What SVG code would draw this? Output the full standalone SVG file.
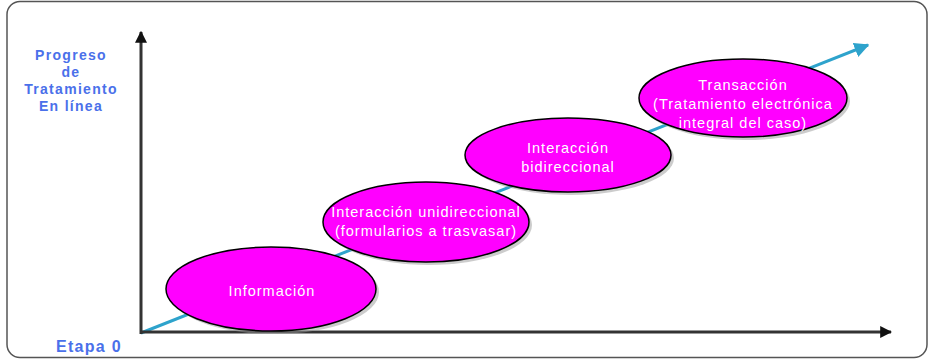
<svg xmlns="http://www.w3.org/2000/svg" width="931" height="360" viewBox="0 0 931 360">
<style>
.axis{stroke:#333;stroke-width:3;fill:none}
.trend{stroke:#2ea3cc;stroke-width:3;fill:none}
.node ellipse.sh{fill:#999;opacity:0.5}
.node ellipse.e{fill:#ff00ff;stroke:#000;stroke-width:1.5}
.node text{font-family:"Liberation Sans",Arial,sans-serif;font-size:14.5px;fill:#fff;text-anchor:middle;letter-spacing:1px}
.lbl{font-family:"Liberation Sans",Arial,sans-serif;font-weight:bold;fill:#4a70ea;text-anchor:middle;letter-spacing:1.3px}
</style>
<defs>
<marker id="ah" viewBox="0 0 10 10" refX="9" refY="5" markerWidth="4" markerHeight="4" orient="auto" markerUnits="strokeWidth"><path d="M0,0 L10,5 L0,10 Z" fill="#111"/></marker>
<marker id="bh" viewBox="0 0 10 10" refX="9" refY="5" markerWidth="5" markerHeight="5" orient="auto" markerUnits="strokeWidth"><path d="M0,0 L10,5 L0,10 Z" fill="#2ea3cc"/></marker>
</defs>
<rect x="7" y="1.5" width="920" height="356" rx="13" fill="#fff" stroke="#555" stroke-width="1.5"/>
<g id="connectors">
<line class="trend" x1="141" y1="333" x2="868" y2="45" marker-end="url(#bh)"/>
<line class="axis" x1="141" y1="334" x2="141" y2="32" marker-end="url(#ah)"/>
<line class="axis" x1="140" y1="332" x2="891" y2="332" marker-end="url(#ah)"/>
</g>
<g id="node-informacion" class="node">
<ellipse class="sh" cx="274" cy="292" rx="105" ry="42"/>
<ellipse class="e" cx="271" cy="289" rx="105" ry="42"/>
<text x="272" y="296">Información</text>
</g>
<g id="node-unidireccional" class="node">
<ellipse class="sh" cx="429" cy="225" rx="103" ry="40"/>
<ellipse class="e" cx="426" cy="222" rx="103" ry="40"/>
<text x="426" y="217">Interacción unidireccional</text>
<text x="426" y="236">(formularios a trasvasar)</text>
</g>
<g id="node-bidireccional" class="node">
<ellipse class="sh" cx="571" cy="158" rx="103" ry="37"/>
<ellipse class="e" cx="568" cy="155" rx="103" ry="37"/>
<text x="568" y="153">Interacción</text>
<text x="568" y="172">bidireccional</text>
</g>
<g id="node-transaccion" class="node">
<ellipse class="sh" cx="746" cy="101" rx="104" ry="39"/>
<ellipse class="e" cx="743" cy="98" rx="104" ry="39"/>
<text x="743" y="90">Transacción</text>
<text x="743" y="109">(Tratamiento electrónica</text>
<text x="743" y="128">integral del caso)</text>
</g>
<g id="labels">
<text class="lbl" x="71" y="60" font-size="14">Progreso</text>
<text class="lbl" x="71" y="77" font-size="14">de</text>
<text class="lbl" x="71" y="94" font-size="14">Tratamiento</text>
<text class="lbl" x="71" y="111" font-size="14">En línea</text>
<text class="lbl" x="89" y="352" font-size="16">Etapa 0</text>
</g>
</svg>
